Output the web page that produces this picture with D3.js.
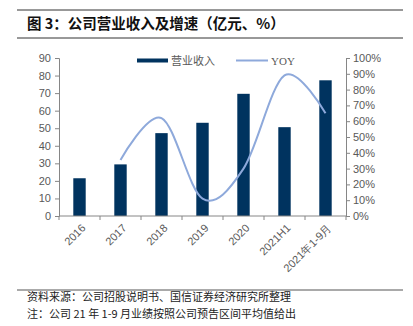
<!DOCTYPE html>
<html><head><meta charset="utf-8">
<script src="https://cdn.jsdelivr.net/npm/d3@7"></script>
<style>body{margin:0;background:#fff}svg{display:block}</style>
</head><body>
<svg id="c" width="413" height="326"></svg>
<script>
const categories = ["2016","2017","2018","2019","2020","2021H1","2021年1-9月"];
const revenue = [21.5, 29.4, 47.2, 53.1, 69.6, 50.6, 77.3];
const yoy = [null, 35.5, 62, 11, 30, 89, 65];
const leftTicks = [0,10,20,30,40,50,60,70,80,90];
const rightTicks = [0,10,20,30,40,50,60,70,80,90,100];
const title = "图 3：公司营业收入及增速（亿元、%）";
const notes = ["资料来源：公司招股说明书、国信证券经济研究所整理","注：公司 21 年 1-9 月业绩按照公司预告区间平均值给出"];
const seriesNames = ["营业收入","YOY"];

const svg = d3.select("#c");
const L = 59, R = 346, T = 58, B = 216;
const axisColor = "#868686", textColor = "#595959";
const barColor = "#00335F", lineColor = "#8EA9DB";

// title block
svg.append("line").attr("x1",17).attr("x2",403).attr("y1",10).attr("y2",10).attr("stroke","#333").attr("stroke-width",1);
svg.append("line").attr("x1",17).attr("x2",403).attr("y1",38).attr("y2",38).attr("stroke","#333").attr("stroke-width",1);
svg.append("text").attr("x",27).attr("y",29).text(title)
  .attr("font-family","'Noto Sans CJK SC'").attr("font-weight","bold").attr("font-size",14.5).attr("fill","#111");

const xb = d3.scaleBand().domain(categories).range([L,R]);
const y = d3.scaleLinear().domain([0,90]).range([B,T]);
const y2 = d3.scaleLinear().domain([0,100]).range([B,T]);

// bars
svg.append("g").selectAll("rect").data(categories).join("rect")
  .attr("x",d=>xb(d)+xb.bandwidth()/2-6.2).attr("width",12.4)
  .attr("y",(d,i)=>y(revenue[i])).attr("height",(d,i)=>B-y(revenue[i]))
  .attr("fill",barColor);

// line
const pts = categories.map((c,i)=>[xb(c)+xb.bandwidth()/2, yoy[i]]).filter(p=>p[1]!=null);
svg.append("path").datum(pts)
  .attr("d", d3.line().x(d=>d[0]).y(d=>y2(d[1])).curve(d3.curveCatmullRom.alpha(0)))
  .attr("fill","none").attr("stroke",lineColor).attr("stroke-width",2);

function styleAxis(g){
  g.selectAll(".domain").attr("stroke",axisColor);
  g.selectAll(".tick line").attr("stroke",axisColor);
  g.selectAll("text").attr("fill",textColor).attr("font-family","'Liberation Sans',Arial,sans-serif").attr("font-size",11);
}
// left axis
const gl = svg.append("g").attr("transform",`translate(${L},0)`)
  .call(d3.axisLeft(y).tickValues(leftTicks).tickSize(4).tickSizeOuter(4).tickPadding(4));
styleAxis(gl);
// right axis
const gr = svg.append("g").attr("transform",`translate(${R},0)`)
  .call(d3.axisRight(y2).tickValues(rightTicks).tickFormat(d=>d+"%").tickSize(4).tickSizeOuter(4).tickPadding(3));
styleAxis(gr);
// bottom axis
const gb = svg.append("g").attr("transform",`translate(0,${B})`);
gb.append("line").attr("x1",L).attr("x2",R).attr("stroke",axisColor);
const bounds = categories.map(c=>xb(c)).concat([R]);
gb.selectAll("line.t").data(bounds).join("line").attr("class","t")
  .attr("x1",d=>d).attr("x2",d=>d).attr("y1",0).attr("y2",4).attr("stroke",axisColor);
gb.selectAll("text").data(categories).join("text")
  .attr("transform",d=>`translate(${xb(d)+xb.bandwidth()/2+4},${10}) rotate(-45)`)
  .attr("text-anchor","end").attr("dy","0.35em")
  .attr("fill",textColor).attr("font-family","'Liberation Sans',Arial,sans-serif").attr("font-size",11)
  .text(d=>d);

// legend
const lg = svg.append("g");
lg.append("rect").attr("x",137).attr("y",58.5).attr("width",31).attr("height",4).attr("fill",barColor);
lg.append("text").attr("x",171).attr("y",64.5).text(seriesNames[0]).attr("fill",textColor)
  .attr("font-family","'Noto Sans CJK SC'").attr("font-size",11);
lg.append("line").attr("x1",236).attr("x2",268).attr("y1",60.5).attr("y2",60.5).attr("stroke",lineColor).attr("stroke-width",2);
lg.append("text").attr("x",271).attr("y",64.5).text(seriesNames[1]).attr("fill",textColor)
  .attr("font-family","'Liberation Serif',serif").attr("font-size",11);

// footer
svg.append("line").attr("x1",17).attr("x2",403).attr("y1",290).attr("y2",290).attr("stroke","#555").attr("stroke-width",1);
svg.selectAll("text.note").data(notes).join("text").attr("class","note")
  .attr("x",27).attr("y",(d,i)=>301+i*16.5).text(d=>d)
  .attr("font-family","'Noto Sans CJK SC'").attr("font-size",11).attr("fill","#222");
</script>
</body></html>
